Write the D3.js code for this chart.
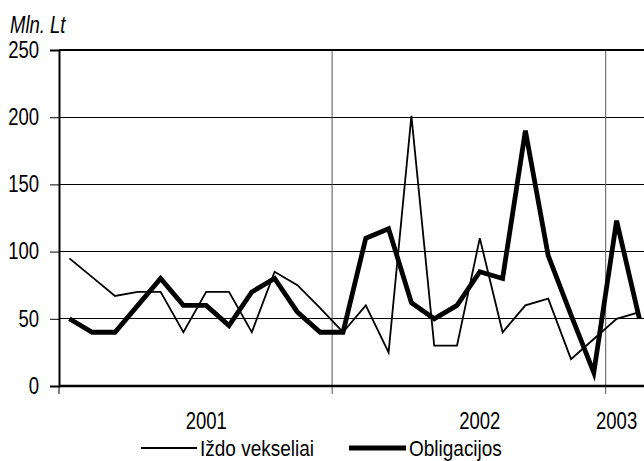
<!DOCTYPE html>
<html>
<head>
<meta charset="utf-8">
<script src="https://cdn.jsdelivr.net/npm/d3@7"></script>
<style>
  body { margin: 0; background: #fff; }
  text { font-family: "Liberation Sans", Arial, sans-serif; fill: #000; }
</style>
</head>
<body>
<svg id="chart" width="644" height="461"></svg>
<script>
// months Jan 2001 .. Feb 2003
const months = d3.range(26).map(i => `${2001 + Math.floor(i / 12)}-${String(i % 12 + 1).padStart(2, "0")}`);

const izdoVekseliai = [95, 81, 67, 70, 70, 40, 70, 70, 40, 85, 75, 58,
                       40, 60, 25, 201, 30, 30, 110, 40, 60, 65, 20, 35,
                       50, 55];
const obligacijos = [50, 40, 40, 60, 80, 60, 60, 45, 70, 80, 55, 40,
                     40, 110, 117, 62, 50, 60, 85, 80, 190, 97, 53, 10,
                     123, 50];

const yTicks = [0, 50, 100, 150, 200, 250];
const yearLabels = [
  { label: "2001", at: "2001-07" },
  { label: "2002", at: "2002-07" },
  { label: "2003", at: "2003-01" }
];
const yearBounds = ["2001-01", "2002-01", "2003-01"];

const FS = 18.5;    // font size
const SY = 1.3;     // text is drawn tall in the original

const svg = d3.select("#chart");

// put a text at (px,py) stretched in height
const tall = (sel, px, py, sy = SY) =>
  sel.attr("transform", (d, i) => `translate(${typeof px === "function" ? px(d, i) : px},${typeof py === "function" ? py(d, i) : py}) scale(1,${sy})`);

// axis category scale runs a full 36 months, the picture is cut at the right
const allMonths = d3.range(36).map(i => `${2001 + Math.floor(i / 12)}-${String(i % 12 + 1).padStart(2, "0")}`);
const x = d3.scaleBand().domain(allMonths).range([58, 58 + 36 * 22.8]);
const y = d3.scaleLinear().domain([0, 250]).range([386, 50]);
const cx = m => x(m) + x.bandwidth() / 2;

// horizontal grid
svg.append("g")
  .selectAll("line")
  .data(yTicks.slice(1, -1))
  .join("line")
  .attr("x1", 59).attr("x2", 644)
  .attr("y1", d => y(d)).attr("y2", d => y(d))
  .attr("stroke", "#000").attr("stroke-width", 1)
  .attr("shape-rendering", "crispEdges");

// vertical year lines, running down as ticks
svg.append("g")
  .selectAll("line")
  .data(yearBounds.slice(1))
  .join("line")
  .attr("x1", d => x(d) + 0.5).attr("x2", d => x(d) + 0.5)
  .attr("y1", 50).attr("y2", 394)
  .attr("stroke", "#555").attr("stroke-width", 1);

// top border
svg.append("line")
  .attr("x1", 59).attr("x2", 644).attr("y1", y(250)).attr("y2", y(250))
  .attr("stroke", "#000").attr("stroke-width", 2);

// y axis
const yAxis = svg.append("g")
  .attr("transform", "translate(59,0)")
  .call(d3.axisLeft(y).tickValues(yTicks).tickSize(9).tickPadding(10));
yAxis.select(".domain").attr("stroke-width", 2);
yAxis.selectAll(".tick line").attr("stroke-width", 1);
yAxis.selectAll("text")
  .attr("font-size", FS)
  .attr("font-family", null)
  .attr("x", null).attr("dy", "0.3em")
  .attr("transform", `translate(-20,0) scale(1,${SY})`);

// x axis line + first tick
svg.append("line")
  .attr("x1", 59).attr("x2", 644).attr("y1", y(0)).attr("y2", y(0))
  .attr("stroke", "#000").attr("stroke-width", 2.5);
svg.append("line")
  .attr("x1", 59).attr("x2", 59).attr("y1", y(0)).attr("y2", 394)
  .attr("stroke", "#000").attr("stroke-width", 1);

// year labels
svg.append("g")
  .selectAll("text")
  .data(yearLabels)
  .join("text")
  .attr("text-anchor", "middle")
  .attr("font-size", FS)
  .call(tall, d => cx(d.at), 428.5)
  .text(d => d.label);

// unit label
svg.append("text")
  .attr("font-size", FS)
  .attr("font-style", "italic")
  .call(tall, 10, 33)
  .text("Mln. Lt");

// series lines
const line = d3.line()
  .x((d, i) => cx(months[i]))
  .y(d => y(d));

svg.append("path")
  .datum(izdoVekseliai)
  .attr("d", line)
  .attr("fill", "none")
  .attr("stroke", "#000")
  .attr("stroke-width", 1.8)
  .attr("stroke-linejoin", "miter");

svg.append("path")
  .datum(obligacijos)
  .attr("d", line)
  .attr("fill", "none")
  .attr("stroke", "#000")
  .attr("stroke-width", 4.8)
  .attr("stroke-linejoin", "miter");

// legend
const legend = [
  { name: "Iždo vekseliai", w: 1.8, x0: 141, x1: 197 },
  { name: "Obligacijos", w: 4.8, x0: 349, x1: 406 }
];
const lg = svg.append("g")
  .selectAll("g")
  .data(legend)
  .join("g");
lg.append("line")
  .attr("x1", d => d.x0).attr("x2", d => d.x1)
  .attr("y1", 448).attr("y2", 448)
  .attr("stroke", "#000")
  .attr("stroke-width", d => d.w);
lg.append("text")
  .attr("font-size", 19)
  .call(tall, d => d.x1 + 3, 455.5, 1.2)
  .text(d => d.name);
</script>
</body>
</html>
